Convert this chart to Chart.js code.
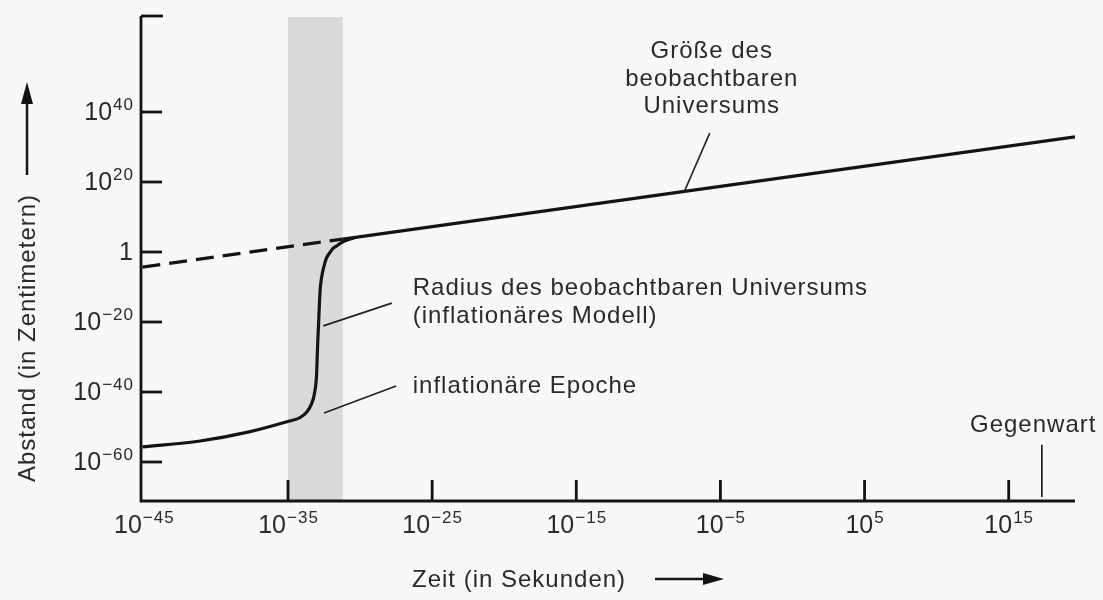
<!DOCTYPE html>
<html lang="de">
<head>
<meta charset="utf-8">
<title>Inflationäres Universum</title>
<script src="https://cdn.jsdelivr.net/npm/chart.js@4.4.1/dist/chart.umd.min.js"></script>
<style>
  html, body { margin: 0; padding: 0; background: #f8f8f8; }
  #wrap { width: 1103px; height: 600px; }
</style>
</head>
<body>
<div id="wrap"><canvas id="chart" width="1103" height="600"></canvas></div>
<script>
// all values are exponents (log10): x = seconds, y = centimetres
const xTicks = [-45, -35, -25, -15, -5, 5, 15];
const yTicks = [-60, -40, -20, 0, 20, 40];

// size of the observable universe (straight line in log-log)
const sizeDashX = [-45.1, -31.2];
const sizeDashY = [-4.3, 3.7];
const sizeX = [-31.2, 19.6];
const sizeY = [3.7, 32.9];

// radius of the observable universe, inflationary model
const radiusX = [-45.1, -41.1, -37.7, -34.9, -34.2, -33.7, -33.37, -33.16, -33.02, -32.95, -32.81, -32.74, -32.6, -32.46, -32.33, -32.12, -31.91, -31.63, -31.43, -31.08, -30.4];
const radiusY = [-55.7, -54.0, -51.4, -48.3, -47.4, -45.7, -43.4, -40.3, -35.1, -27.1, -13.7, -9.4, -5.7, -3.4, -1.7, -0.3, 0.9, 1.7, 2.3, 3.1, 4.1];

// inflationary epoch
const epochBand = [-35, -31.2];
const nowX = 17.3;

const ink = '#141414';
const textCol = '#2a2a2a';
const font = (size) => `${size}px "Liberation Sans", Arial, sans-serif`;

const pts = (xs, ys) => xs.map((x, i) => ({ x: x, y: ys[i] }));

function drawPower(ctx, exp, x, y, align) {
    const base = exp === 0 ? '1' : '10';
    const sup = exp === 0 ? '' : (exp < 0 ? '\u2212' + (-exp) : String(exp));
    ctx.font = font(25);
    const wb = ctx.measureText(base).width;
    ctx.font = font(17);
    ctx.letterSpacing = '1px';
    const ws = sup ? ctx.measureText(sup).width : 0;
    ctx.letterSpacing = '0px';
    const left = align === 'center' ? x - (wb + ws) / 2 : x - wb - ws;
    ctx.textAlign = 'left';
    ctx.textBaseline = 'alphabetic';
    ctx.font = font(25);
    ctx.fillText(base, left, y);
    if (sup) {
        ctx.font = font(17);
        ctx.letterSpacing = '1px';
        ctx.fillText(sup, left + wb + 1, y - 10);
        ctx.letterSpacing = '0px';
    }
}

function line(ctx, x1, y1, x2, y2, w) {
    ctx.lineWidth = w;
    ctx.beginPath();
    ctx.moveTo(x1, y1);
    ctx.lineTo(x2, y2);
    ctx.stroke();
}

const decor = {
    id: 'decor',
    beforeDraw(chart) {
        const ctx = chart.ctx;
        ctx.save();
        ctx.fillStyle = '#f8f8f8';
        ctx.fillRect(0, 0, chart.width, chart.height);
        ctx.restore();
    },
    beforeDatasetsDraw(chart) {
        const { ctx, chartArea, scales: { x } } = chart;
        ctx.save();
        ctx.fillStyle = '#dadada';
        const x1 = x.getPixelForValue(epochBand[0]);
        const x2 = x.getPixelForValue(epochBand[1]);
        ctx.fillRect(x1, chartArea.top + 1, x2 - x1, chartArea.bottom - chartArea.top - 1);
        ctx.restore();
    },
    afterDatasetsDraw(chart) {
        const { ctx, chartArea: a, scales: { x, y } } = chart;
        ctx.save();
        ctx.strokeStyle = ink;
        ctx.fillStyle = textCol;
        ctx.lineCap = 'butt';

        // axes
        line(ctx, a.left, a.top, a.left, a.bottom + 1, 2.8);
        line(ctx, a.left - 1, a.bottom, a.right, a.bottom, 2.8);
        line(ctx, a.left, a.top, a.left + 22, a.top, 2.8);

        yTicks.forEach(v => {
            const py = y.getPixelForValue(v);
            line(ctx, a.left, py, a.left + 21, py, 2.8);
            drawPower(ctx, v, a.left - 8, py + 8, 'right');
        });
        xTicks.forEach(v => {
            const px = x.getPixelForValue(v);
            if (v !== xTicks[0]) line(ctx, px, a.bottom, px, a.bottom - 21, 2.8);
            drawPower(ctx, v, px, a.bottom + 32, 'center');
        });

        // leader lines
        ctx.strokeStyle = '#222';
        const lead = (x1, y1, x2, y2) => line(ctx, x.getPixelForValue(x1), y.getPixelForValue(y1),
                                               x.getPixelForValue(x2), y.getPixelForValue(y2), 1.7);
        lead(-7.48, 17.5, -5.74, 34);
        lead(-32.55, -21.1, -27.8, -14.6);
        lead(-32.5, -46, -27.5, -38.3);
        lead(nowX, -55.1, nowX, -70);

        // labels
        ctx.letterSpacing = '1px';
        ctx.font = font(24);
        ctx.textBaseline = 'alphabetic';
        ctx.textAlign = 'center';
        const gx = x.getPixelForValue(-5.6);
        ctx.fillText('Größe des', gx, y.getPixelForValue(55.4));
        ctx.fillText('beobachtbaren', gx, y.getPixelForValue(47.4));
        ctx.fillText('Universums', gx, y.getPixelForValue(39.7));
        ctx.fillText('Gegenwart', x.getPixelForValue(16.7), y.getPixelForValue(-51.4));
        ctx.textAlign = 'left';
        const rx = x.getPixelForValue(-26.35);
        ctx.fillText('Radius des beobachtbaren Universums', rx, y.getPixelForValue(-12.3));
        ctx.fillText('(inflationäres Modell)', rx, y.getPixelForValue(-20.3));
        ctx.fillText('inflationäre Epoche', rx, y.getPixelForValue(-40.3));

        // axis titles with arrows
        ctx.fillText('Zeit (in Sekunden)', 412, 587);
        ctx.strokeStyle = ink;
        ctx.fillStyle = ink;
        line(ctx, 655, 579, 706, 579, 2.5);
        ctx.beginPath();
        ctx.moveTo(724, 579); ctx.lineTo(703, 573); ctx.lineTo(703, 585); ctx.closePath(); ctx.fill();

        ctx.save();
        ctx.translate(28, 338);
        ctx.rotate(-Math.PI / 2);
        ctx.textAlign = 'center';
        ctx.textBaseline = 'middle';
        ctx.fillStyle = textCol;
        ctx.fillText('Abstand (in Zentimetern)', 0, 0);
        ctx.restore();
        line(ctx, 27, 175, 27, 100, 2.5);
        ctx.beginPath();
        ctx.moveTo(27, 82); ctx.lineTo(21, 104); ctx.lineTo(33, 104); ctx.closePath(); ctx.fill();

        ctx.restore();
    }
};

new Chart(document.getElementById('chart'), {
    type: 'line',
    data: {
        datasets: [
            {
                data: pts(sizeDashX, sizeDashY),
                borderColor: ink,
                borderWidth: 3.2,
                borderDash: [18, 9],
                pointRadius: 0
            },
            {
                data: pts(sizeX, sizeY),
                borderColor: ink,
                borderWidth: 3.2,
                pointRadius: 0
            },
            {
                data: pts(radiusX, radiusY),
                borderColor: ink,
                borderWidth: 3.2,
                pointRadius: 0,
                cubicInterpolationMode: 'monotone'
            }
        ]
    },
    options: {
        responsive: false,
        animation: false,
        layout: { padding: { left: 141, top: 16, right: 28, bottom: 99 } },
        plugins: { legend: { display: false }, tooltip: { enabled: false } },
        scales: {
            x: { type: 'linear', display: false, min: -45.2, max: 19.6 },
            y: { type: 'linear', display: false, min: -71.14, max: 67.43 }
        }
    },
    plugins: [decor]
});
</script>
</body>
</html>
